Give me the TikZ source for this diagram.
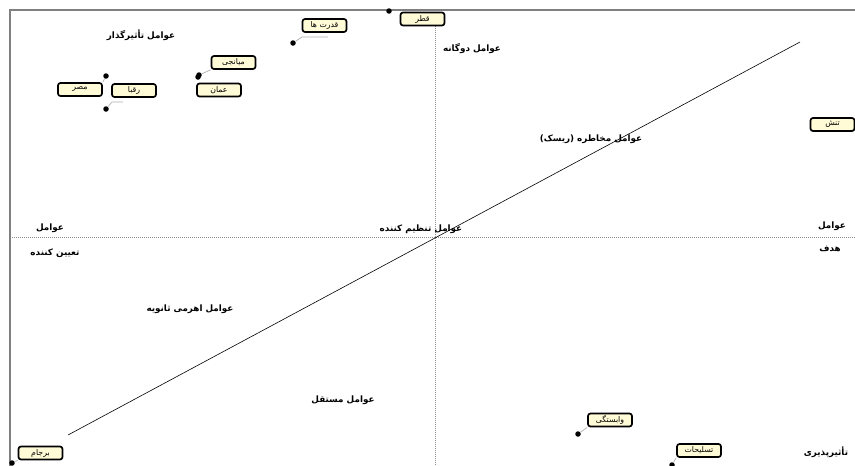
\documentclass[tikz,border=0pt]{standalone}
\usepackage{fontspec}
\newfontfamily\arabicfont[Script=Arabic]{DejaVu Sans}
\TeXXeTstate=1
\newcommand{\pers}[1]{\beginR #1\endR}
\definecolor{cream}{RGB}{255,251,214}
\tikzset{
  lbl/.style={font=\arabicfont\bfseries\fontsize{8.8}{10}\selectfont, inner sep=0pt},
  tag/.style={draw=black, line width=1.7pt, rounded corners=2.5pt, fill=cream,
    minimum width=44pt, minimum height=13pt, inner sep=0pt,
    font=\arabicfont\fontsize{7.8}{8.5}\selectfont},
  dot/.style={circle, fill=black, inner sep=0pt, minimum size=5.5pt},
  leader/.style={draw=gray!60, line width=0.7pt},
  frame/.style={draw=gray, line width=1.4pt},
  axis/.style={draw=gray!90, dash pattern=on 1pt off 1pt, line width=0.5pt},
  diag/.style={draw=black, line width=0.6pt}
}
\begin{document}
\begin{tikzpicture}[x=1pt,y=-1pt]
\useasboundingbox[fill=white] (0,0) rectangle (855,466);
% frame and axes
\coordinate (fTL) at (10,10);
\coordinate (fBL) at (10,466);
\coordinate (fTR) at (855,10);
\coordinate (vT) at (435,10);
\coordinate (vB) at (435,466);
\coordinate (hL) at (10,237);
\coordinate (hR) at (855,237);
\coordinate (dA) at (68,435);
\coordinate (dB) at (800,42);
\draw[axis] (vT) -- (vB);
\draw[axis] (hL) -- (hR);
\draw[frame] (fBL) -- (fTL) -- (fTR);
\draw[diag] (dA) -- (dB);
% region labels
\node[lbl] (l1) at (141,35) {\pers{عوامل تأثیرگذار}};
\node[lbl] (l2) at (472,49) {\pers{عوامل دوگانه}};
\node[lbl] (l3) at (591,139) {\pers{عوامل مخاطره (ریسک)}};
\node[lbl] (l4) at (50,228) {\pers{عوامل}};
\node[lbl] (l5) at (55,253) {\pers{تعیین کننده}};
\node[lbl] (l6) at (421,229) {\pers{عوامل تنظیم کننده}};
\node[lbl] (l7) at (832,226) {\pers{عوامل}};
\node[lbl] (l8) at (830,249) {\pers{هدف}};
\node[lbl] (l9) at (190,309) {\pers{عوامل اهرمی ثانویه}};
\node[lbl] (l10) at (343,400) {\pers{عوامل مستقل}};
\node[lbl] (l11) at (826,452) {\pers{تأثیرپذیری}};
% dots
\node[dot] (dMisr) at (106,76) {};
\node[dot] (dRoq) at (106,109) {};
\node[dot] (dMiy) at (199,75) {};
\node[dot] (dOman) at (198,77) {};
\node[dot] (dQod) at (293,43) {};
\node[dot] (dQat) at (389,11) {};
\node[dot] (dVab) at (578,434) {};
\node[dot] (dTas) at (672,465) {};
\node[dot] (dBar) at (12,463) {};
% leaders
\coordinate (kRoq) at (112,102);
\coordinate (kRoqE) at (123,102);
\coordinate (kQod) at (302,37);
\coordinate (kQodE) at (328,37);
\draw[leader] (dRoq) -- (kRoq) -- (kRoqE);
\draw[leader] (dQod) -- (kQod) -- (kQodE);
% tags
\node[tag] (tMisr) at (80,89.5) {\pers{مصر}};
\node[tag] (tRoq) at (134,90.5) {\pers{رقبا}};
\node[tag] (tMiy) at (233.5,62.5) {\pers{میانجی}};
\node[tag] (tOman) at (219,90) {\pers{عمان}};
\node[tag] (tQod) at (324.5,25.5) {\pers{قدرت ها}};
\node[tag] (tQat) at (422.5,19) {\pers{قطر}};
\node[tag] (tTan) at (832.5,124.5) {\pers{تنش}};
\node[tag] (tVab) at (610,420) {\pers{وابستگی}};
\node[tag] (tTas) at (699,450.5) {\pers{تسلیحات}};
\node[tag] (tBar) at (40.5,453) {\pers{برجام}};
\draw[leader] (dMisr) -- (tMisr.north east);
\draw[leader] (dMiy) -- (tMiy.south west);
\draw[leader] (dVab) -- (tVab.south west);
\draw[leader] (dTas) -- (tTas.south west);
\draw[leader] (dBar) -- (tBar.south west);
\end{tikzpicture}
\end{document}
